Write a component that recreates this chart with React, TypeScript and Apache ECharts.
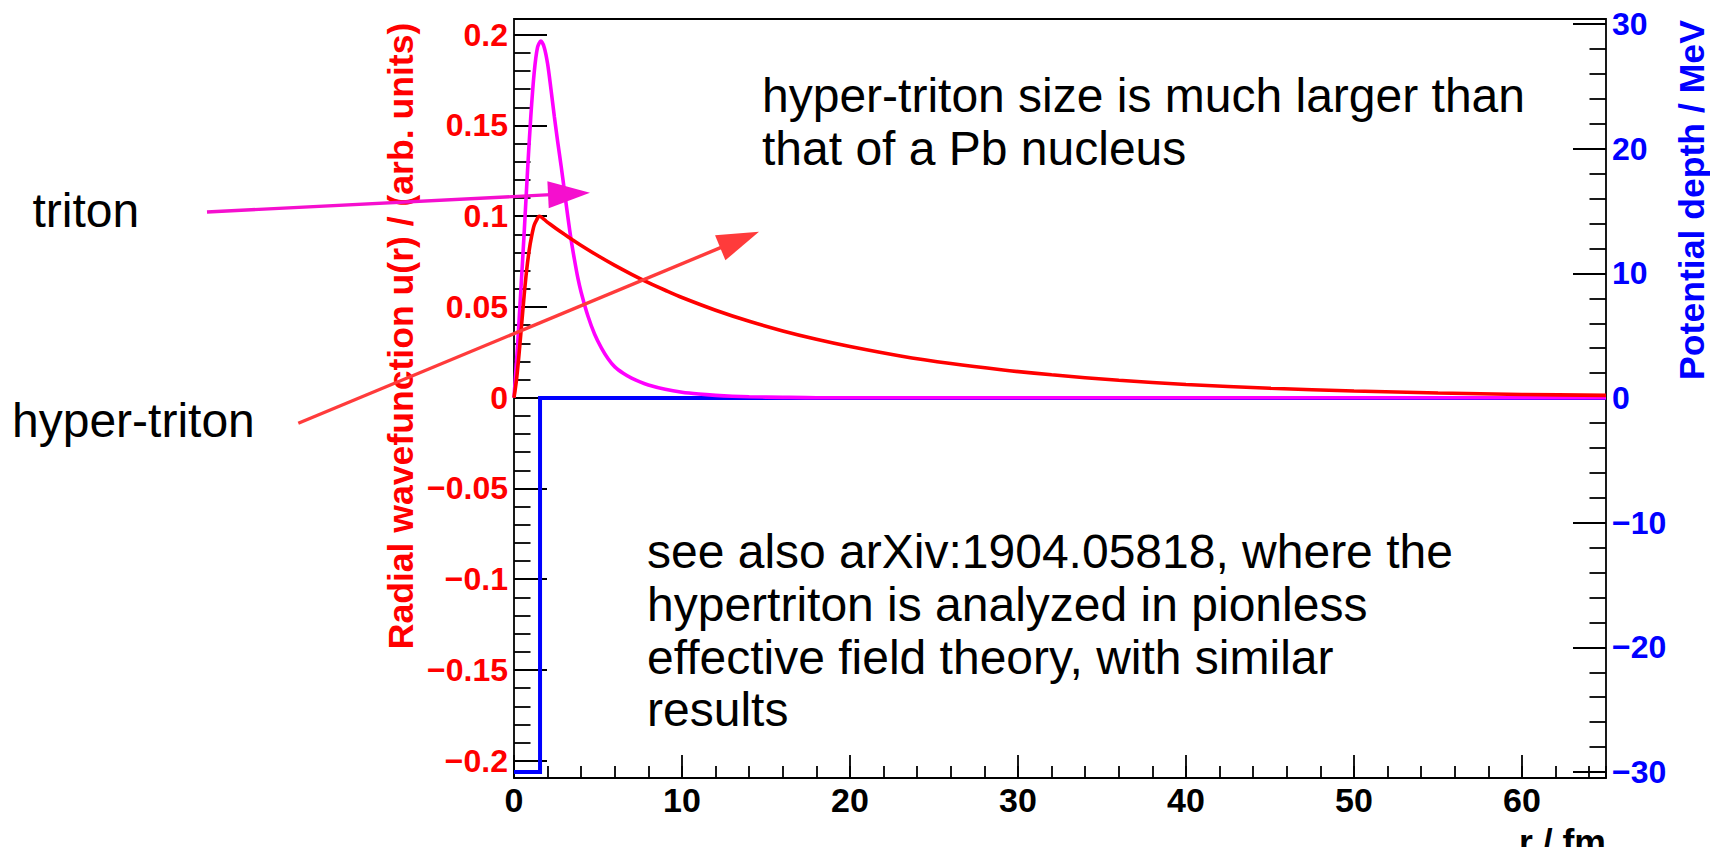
import React, { useEffect, useRef } from "react";
import * as echarts from "echarts";

// ---------------- data ----------------
// triton radial wavefunction u(r) (magenta)
const tritonR = [0, 0.2, 0.4, 0.6, 0.8, 1.0, 1.2, 1.4, 1.6, 1.8, 2.0, 2.2, 2.4, 2.6, 2.8, 3.0, 3.2, 3.4, 3.6, 3.8, 4.0, 4.4, 4.8, 5.2, 5.6, 6.0, 6.5, 7.0, 7.5, 8, 9, 10, 11, 12, 13, 14, 16, 18, 65];
const tritonU = [0, 0.027, 0.058, 0.09, 0.124, 0.155, 0.179, 0.193, 0.1965, 0.193, 0.184, 0.17, 0.155, 0.141, 0.128, 0.114, 0.1, 0.087, 0.076, 0.066, 0.058, 0.045, 0.035, 0.0275, 0.0215, 0.017, 0.0135, 0.0108, 0.0087, 0.007, 0.0046, 0.003, 0.002, 0.0013, 0.0008, 0.0005, 0.0002, 0, 0];

// hyper-triton radial wavefunction u(r) (red)
const hyperR = [0, 0.15, 0.3, 0.45, 0.6, 0.75, 0.9, 1.05, 1.2, 1.35, 1.5, 2, 2.5, 3, 3.5, 4, 5, 6, 7, 8, 9, 10, 12, 14, 16, 18, 20, 23, 26, 29, 32, 36, 40, 45, 50, 55, 60, 65];
const hyperU = [0, 0.01, 0.024, 0.04, 0.056, 0.07, 0.081, 0.089, 0.095, 0.098, 0.1, 0.0966, 0.0932, 0.09, 0.0869, 0.0839, 0.0782, 0.0729, 0.068, 0.0634, 0.0592, 0.0552, 0.0482, 0.0421, 0.0368, 0.0322, 0.0282, 0.023, 0.0188, 0.0154, 0.0126, 0.0096, 0.0073, 0.0052, 0.0037, 0.0026, 0.0018, 0.0013];

// potential depth / MeV (blue step)
const potR = [0, 1.55, 1.55, 65];
const potV = [-30, -30, 0, 0];

// tick labels
const xTickValues = [0, 10, 20, 30, 40, 50, 60];
const xTickLabels = ["0", "10", "20", "30", "40", "50", "60"];
const leftTickValues = [-0.2, -0.15, -0.1, -0.05, 0, 0.05, 0.1, 0.15, 0.2];
const leftTickLabels = ["\u22120.2", "\u22120.15", "\u22120.1", "\u22120.05", "0", "0.05", "0.1", "0.15", "0.2"];
const rightTickValues = [-30, -20, -10, 0, 10, 20, 30];
const rightTickLabels = ["\u221230", "\u221220", "\u221210", "0", "10", "20", "30"];

const FONT = "'Liberation Sans', Arial, Helvetica, sans-serif";

function lookup(values: number[], labels: string[]) {
  return (v: number) => {
    for (let i = 0; i < values.length; i++) {
      if (Math.abs(values[i] - v) < 1e-6) return labels[i];
    }
    return "";
  };
}

function arrow(x1: number, y1: number, x2: number, y2: number, color: string, width: number, headLen: number, headW: number) {
  const dx = x2 - x1, dy = y2 - y1;
  const L = Math.hypot(dx, dy);
  const ux = dx / L, uy = dy / L;
  const bx = x2 - ux * headLen, by = y2 - uy * headLen;
  const px = -uy * headW / 2, py = ux * headW / 2;
  return [
    { type: "line", z: 100, shape: { x1, y1, x2: bx + ux * 3, y2: by + uy * 3 }, style: { stroke: color, lineWidth: width } },
    { type: "polygon", z: 100, shape: { points: [[x2, y2], [bx + px, by + py], [bx - px, by - py]] }, style: { fill: color } },
  ];
}

function txt(text: string, x: number, y: number, opts: any = {}) {
  return {
    type: "text",
    z: 100,
    x,
    y,
    rotation: opts.rotation || 0,
    style: {
      text,
      fill: opts.color || "#000",
      fontSize: opts.size || 48,
      fontWeight: opts.weight || "normal",
      fontFamily: FONT,
      align: opts.align || "left",
      verticalAlign: "middle",
    },
  };
}

const FRAME = { left: 514, top: 19, width: 1092, height: 759 };
const TICK = { color: "#000", width: 1.8 };

export default function App() {
  const ref = useRef<HTMLDivElement>(null);
  useEffect(() => {
    document.body.style.margin = "0";
    const chart = echarts.init(ref.current!, undefined, { renderer: "svg" });
    const hiddenX = (gridIndex: number) => ({
      type: "value", gridIndex, min: 0, max: 65, show: false,
    });
    const option: any = {
      animation: false,
      backgroundColor: "#fff",
      grid: [
        { ...FRAME, show: true, borderColor: "#000", borderWidth: 1.8, backgroundColor: "transparent" },
        { left: FRAME.left, width: FRAME.width, top: 34.7, height: 726 },
        { left: FRAME.left, width: FRAME.width, top: 24.2, height: 747.8 },
      ],
      xAxis: [
        {
          type: "value", gridIndex: 0, position: "bottom", min: 0, max: 65, interval: 2,
          axisLine: { show: false, onZero: false },
          axisTick: { show: true, inside: true, length: 12, lineStyle: TICK },
          axisLabel: { show: false },
          splitLine: { show: false },
        },
        {
          type: "value", gridIndex: 0, position: "bottom", min: 0, max: 65, interval: 10,
          axisLine: { show: false, onZero: false },
          axisTick: { show: true, inside: true, length: 23, lineStyle: TICK },
          axisLabel: {
            show: true, showMaxLabel: false, margin: 5, color: "#000", fontSize: 34, fontWeight: "bold", fontFamily: FONT,
            formatter: lookup(xTickValues, xTickLabels),
          },
          splitLine: { show: false },
        },
        hiddenX(1),
        hiddenX(2),
      ],
      yAxis: [
        { type: "value", gridIndex: 0, min: 0, max: 1, show: false },
        {
          type: "value", gridIndex: 1, position: "left", min: -0.2, max: 0.2, interval: 0.05,
          axisLine: { show: false, onZero: false },
          axisTick: { show: true, inside: true, length: 33, lineStyle: TICK },
          minorTick: { show: true, splitNumber: 5, length: 16.5, lineStyle: TICK },
          splitLine: { show: false },
          minorSplitLine: { show: false },
          axisLabel: {
            margin: 6, color: "#ff0000", fontSize: 32, fontWeight: "bold", fontFamily: FONT,
            formatter: lookup(leftTickValues, leftTickLabels),
          },
        },
        {
          type: "value", gridIndex: 2, position: "right", min: -30, max: 30, interval: 10,
          axisLine: { show: false, onZero: false },
          axisTick: { show: true, inside: true, length: 33, lineStyle: TICK },
          minorTick: { show: true, splitNumber: 5, length: 16.5, lineStyle: TICK },
          splitLine: { show: false },
          minorSplitLine: { show: false },
          axisLabel: {
            margin: 6, color: "#0000ff", fontSize: 32, fontWeight: "bold", fontFamily: FONT,
            formatter: lookup(rightTickValues, rightTickLabels),
          },
        },
      ],
      series: [
        {
          name: "Potential depth", type: "line", xAxisIndex: 3, yAxisIndex: 2,
          data: potR.map((r, i) => [r, potV[i]]),
          symbol: "none", clip: false, z: 2,
          lineStyle: { color: "#0000ff", width: 4, join: "miter" },
        },
        {
          name: "triton", type: "line", xAxisIndex: 2, yAxisIndex: 1,
          data: tritonR.map((r, i) => [r, tritonU[i]]),
          symbol: "none", smooth: 0.3, clip: false, z: 3,
          lineStyle: { color: "#ff00ff", width: 3.6 },
        },
        {
          name: "hyper-triton", type: "line", xAxisIndex: 2, yAxisIndex: 1,
          data: hyperR.map((r, i) => [r, hyperU[i]]),
          symbol: "none", smooth: 0.3, clip: false, z: 4,
          lineStyle: { color: "#ff0000", width: 3.6 },
        },
      ],
      graphic: [
        // axis titles
        txt("Radial wavefunction u(r) / (arb. units)", 401, 336, { rotation: Math.PI / 2, align: "center", size: 35.6, weight: "bold", color: "#ff0000" }),
        txt("Potential depth / MeV", 1691.5, 200, { rotation: Math.PI / 2, align: "center", size: 35.6, weight: "bold", color: "#0000ff" }),
        txt("r / fm", 1606, 841.7, { align: "right", size: 35.6, weight: "bold", color: "#000" }),
        // annotations
        txt("triton", 32.5, 210.1, {}),
        txt("hyper-triton", 12, 420.1, {}),
        txt("hyper-triton size is much larger than", 762, 95.1, {}),
        txt("that of a Pb nucleus", 762, 148.4, {}),
        txt("see also arXiv:1904.05818, where the", 647, 551.4, {}),
        txt("hypertriton is analyzed in pionless", 647, 604.2, {}),
        txt("effective field theory, with similar", 647, 657, {}),
        txt("results", 647, 709.8, {}),
        ...arrow(207, 212, 590, 192.7, "#f50fce", 3.4, 42, 27),
        ...arrow(298.3, 423.3, 759, 231.7, "#ff3b3b", 3.4, 42, 27),
      ],
    };
    chart.setOption(option);
    return () => chart.dispose();
  }, []);
  return <div ref={ref} style={{ width: 1710, height: 847, overflow: "hidden" }} />;
}
